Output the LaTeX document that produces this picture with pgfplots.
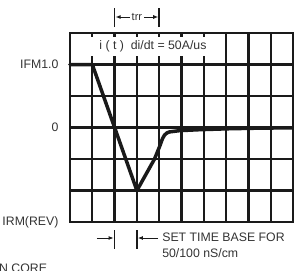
\documentclass[border=0pt]{standalone}
\usepackage{fontspec}
\setmainfont{Liberation Sans}
\usepackage{pgfplots}
\pgfplotsset{compat=1.18}
\usetikzlibrary{arrows.meta}
\definecolor{ink}{HTML}{1A1A1A}
\definecolor{txt}{HTML}{333333}
\begin{document}
\begin{tikzpicture}
\useasboundingbox (-70bp,-49bp) rectangle (224bp,222bp);
\begin{axis}[
  at={(0,0)}, anchor=south west,
  scale only axis, width=223bp, height=189bp,
  xmin=0, xmax=10, ymin=-3, ymax=3,
  xtick=\empty, ytick=\empty,
  axis line style={draw=ink, line width=2.4bp},
  clip=false,
  font=\fontsize{12.3bp}{15bp}\selectfont,
]
\pgfplotsinvokeforeach{1,...,9}{\draw[ink, line width=2.2bp] (axis cs:#1,-3) -- (axis cs:#1,3);}
\pgfplotsinvokeforeach{-2,...,2}{\draw[ink, line width=2.2bp] (axis cs:0,#1) -- (axis cs:10,#1);}
\addplot[ink, line width=3.5bp, line join=round, line cap=round] coordinates {
 (0,2) (1,2) (2,0) (3,-2) (3.79,-1.0) (4.02,-0.6) (4.15,-0.35) (4.24,-0.24)
 (4.35,-0.17) (4.46,-0.14) (4.91,-0.1) (5.8,-0.07) (7.1,-0.04) (8.5,-0.02) (10,-0.01)};
\fill[white] (axis cs:0.22,2.27) rectangle (axis cs:6.95,2.87);
\node[txt] at (axis cs:3.72,2.57) {i ( t )\ \ di/dt = 50A/us};
\node[txt, anchor=east] at ([xshift=-8bp]axis cs:0,2) {IFM1.0};
\node[txt, anchor=east] at ([xshift=-8bp]axis cs:0,0) {0};
\node[txt, anchor=east] at ([xshift=-8bp]axis cs:0,-3) {IRM(REV)};
% trr marker
\draw[ink, line width=1.8bp] ([yshift=6bp]axis cs:2,3) -- ([yshift=25bp]axis cs:2,3);
\draw[ink, line width=1.8bp] ([yshift=6bp]axis cs:4,3) -- ([yshift=25bp]axis cs:4,3);
\node[txt, font=\fontsize{11bp}{13bp}\selectfont, inner sep=0pt] (trr) at ([yshift=16bp]axis cs:3,3) {trr};
\draw[ink, line width=0.9bp, -{Latex[length=5bp,width=4bp]}] ([xshift=-2bp]trr.west |- trr.center) -- ([yshift=16bp, xshift=1bp]axis cs:2,3);
\draw[ink, line width=0.9bp, -{Latex[length=5bp,width=4bp]}] ([xshift=2bp]trr.east |- trr.center) -- ([yshift=16bp, xshift=-1bp]axis cs:4,3);
% time base marker
\draw[ink, line width=1.8bp] ([yshift=-8bp]axis cs:2,-3) -- ([yshift=-27bp]axis cs:2,-3);
\draw[ink, line width=1.8bp] ([yshift=-8bp]axis cs:3,-3) -- ([yshift=-27bp]axis cs:3,-3);
\draw[ink, line width=0.9bp, -{Latex[length=5bp,width=4bp]}] ([yshift=-16bp]axis cs:1.2,-3) -- ([yshift=-16bp, xshift=-1bp]axis cs:2,-3);
\draw[ink, line width=0.9bp, -{Latex[length=5bp,width=4bp]}] ([yshift=-16bp]axis cs:3.95,-3) -- ([yshift=-16bp, xshift=1bp]axis cs:3,-3);
\node[txt, anchor=west, inner sep=0pt] at ([yshift=-15bp]axis cs:4.13,-3) {SET TIME BASE FOR};
\node[txt, anchor=west, inner sep=0pt] at ([yshift=-31bp]axis cs:4.13,-3) {50/100 nS/cm};
\end{axis}
\node[txt, anchor=base west, inner sep=0pt, font=\fontsize{12.3bp}{15bp}\selectfont] at (-71bp,-50bp) {N CORE};
\end{tikzpicture}
\end{document}
